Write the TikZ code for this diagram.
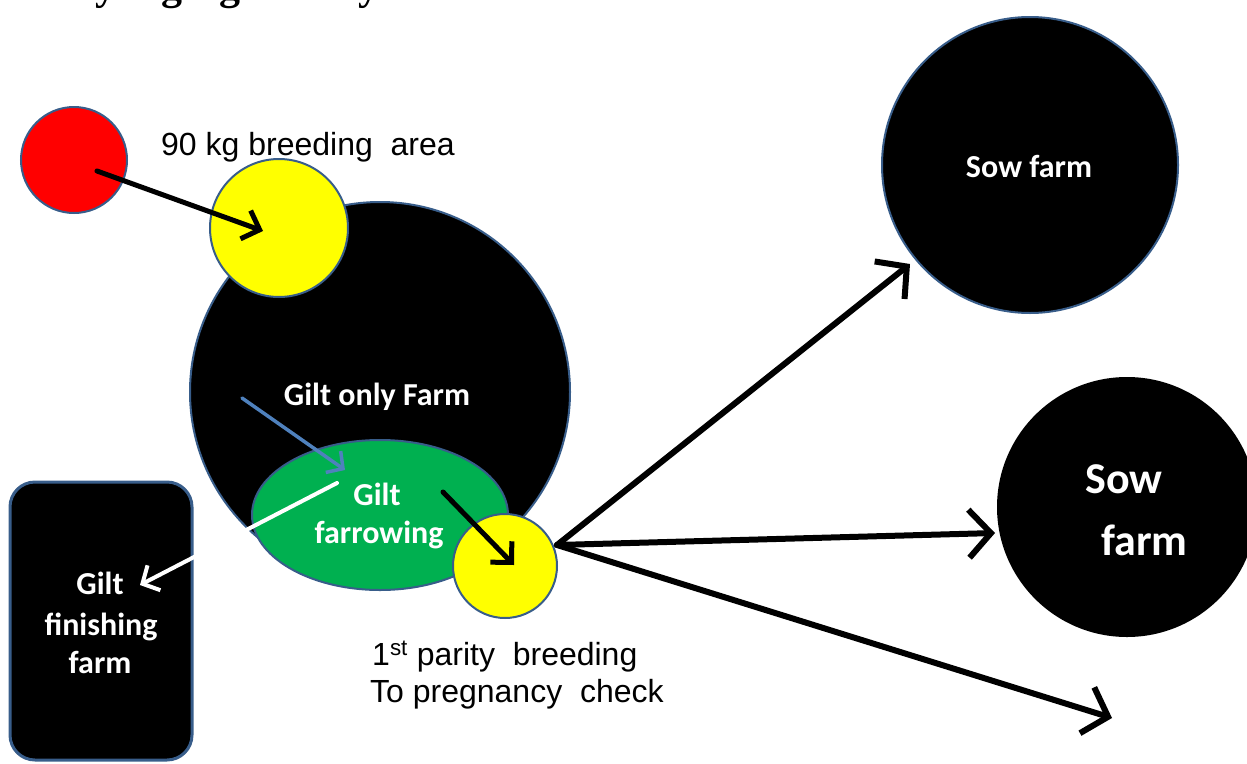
\documentclass[tikz,border=0pt]{standalone}
\usepackage{fontspec}
\setmainfont{Liberation Sans}
\newfontfamily\calibri{Carlito}
\newfontfamily\timesfam{Liberation Serif}
\usetikzlibrary{arrows.meta,shapes.geometric}
\definecolor{edgeblue}{RGB}{56,93,138}
\definecolor{pgreen}{RGB}{0,176,80}
\definecolor{pyellow}{RGB}{255,255,0}
\definecolor{pred}{RGB}{255,0,0}
\definecolor{arrblue}{RGB}{79,129,189}
\tikzset{
  circ/.style={circle, draw=edgeblue, line width=2pt, inner sep=0pt},
  wtxt/.style={text=white, inner sep=0pt, anchor=base, font=\calibri\bfseries\fontsize{32}{38}\selectfont},
  btxt/.style={text=black, inner sep=0pt, anchor=base west, font=\fontsize{32}{38}\selectfont},
  smallarr/.style={line width=5pt, line cap=round, line join=round, -{Straight Barb[length=15pt,width=30pt]}},
  bigarr/.style={line width=6pt, line cap=round, line join=round, -{Straight Barb[length=22pt,width=48pt]}},
}
\begin{document}
\begin{tikzpicture}[x=1pt,y=-1pt]
\path[use as bounding box] (0,0) rectangle (1247,763);
\begin{scope}
\clip (0,0) rectangle (1247,763);
\node[anchor=base west, inner sep=0pt, font=\timesfam\bfseries\fontsize{42}{48}\selectfont] (title) at (4,-1) {Parity segregation systems};
\end{scope}

% shapes
\node[circ, fill=black, minimum size=380pt] (giltfarm) at (380,392) {};
\node[circ, fill=pred, minimum size=106pt] (red) at (74,160) {};
\node[circ, fill=pyellow, minimum size=138pt] (ybreed) at (279,228) {};
\node[ellipse, draw=edgeblue, line width=2pt, fill=pgreen, inner sep=0pt, minimum width=256pt, minimum height=150pt] (farrow) at (380,515) {};
\node[circ, fill=pyellow, minimum size=104pt] (ypar) at (505,566) {};
\node[circ, fill=black, minimum size=296pt] (sow1) at (1030,165) {};
\node[circle, fill=black, inner sep=0pt, minimum size=260pt] (sow2) at (1127,507) {};
\node[draw=edgeblue, line width=3pt, fill=black, rounded corners=25pt, minimum width=182pt, minimum height=278pt] (finish) at (101,621) {};

% white labels
\node[wtxt] (tgf) at (377,405) {Gilt only Farm};
\node[wtxt] (tfa) at (377,505) {Gilt};
\node[wtxt] (tfb) at (379,543) {farrowing};
\node[wtxt] (tga) at (100,594) {Gilt};
\node[wtxt] (tgb) at (101,635) {finishing};
\node[wtxt] (tgc) at (100,673) {farm};
\node[wtxt] (ts1) at (1029,177) {Sow farm};
\node[wtxt, anchor=base west, font=\calibri\bfseries\fontsize{44}{50}\selectfont] (ts2a) at (1085,493) {Sow};
\node[wtxt, anchor=base west, font=\calibri\bfseries\fontsize{44}{50}\selectfont] (ts2b) at (1101,555) {farm};

% black labels
\node[btxt] (tbreed) at (161,155) {90 kg breeding\ \ area};
\node[btxt] (tpar1) at (372,665) {1\textsuperscript{st} parity\ \ breeding};
\node[btxt] (tpar2) at (370,702) {To pregnancy\ \ check};

% connector points
\coordinate (r0) at (97,171);
\coordinate (y0) at (263,231);
\coordinate (b0) at (242,398);
\coordinate (b1) at (345,470);
\coordinate (w0) at (337,483);
\coordinate (w1) at (140,585);
\coordinate (k0) at (443,492);
\coordinate (k1) at (514,565);
\coordinate (p0) at (557,545);
\coordinate (s1) at (910,264);
\coordinate (s2) at (995,533);
\coordinate (s3) at (1112,718);

\draw[smallarr] (r0) -- (y0);
\draw[smallarr, draw=arrblue, line width=3.5pt, -{Straight Barb[length=12pt,width=26pt]}] (b0) -- (b1);
\draw[smallarr, draw=white, line width=4pt, -{Straight Barb[length=13pt,width=28pt]}] (w0) -- (w1);
\draw[smallarr] (k0) -- (k1);
\draw[bigarr] (p0) -- (s1);
\draw[bigarr] (p0) -- (s2);
\draw[bigarr] (p0) -- (s3);
\end{tikzpicture}
\end{document}
